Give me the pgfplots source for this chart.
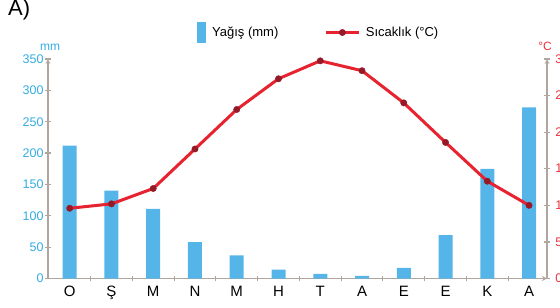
\documentclass[border=0pt]{standalone}
\usepackage{pgfplots}
\pgfplotsset{compat=1.18}
\usepackage{fontspec}
\setmainfont{Liberation Sans}
\definecolor{barblue}{RGB}{85,181,232}
\definecolor{lblue}{RGB}{52,172,226}
\definecolor{lred}{RGB}{236,50,60}
\definecolor{linered}{RGB}{232,35,48}
\definecolor{markred}{RGB}{150,25,40}
\definecolor{axgray}{RGB}{176,166,157}
\pgfplotsset{
 linelegend/.style={legend image code/.code={\draw[mark repeat=2,mark phase=2,##1] plot coordinates {(0pt,0pt)(16.5pt,0pt)(33pt,0pt)}; \path[draw=none,fill=none] (0pt,0pt) -- (40pt,0pt);}},
 barlegend/.style={legend image code/.code={\fill[barblue,draw=none] (0pt,-10.3pt) rectangle (8.5pt,10.3pt); \path[draw=none,fill=none] (0pt,0pt) -- (15pt,0pt);}},
}
\begin{document}
\begin{tikzpicture}
\pgfplotsset{
 common/.style={
  scale only axis, width=499pt, height=219.5pt,
  at={(48pt,29.5pt)}, anchor=south west,
  xmin=-0.52, xmax=11.43, clip=false,
  /pgf/number format/assume math mode=true,
  axis line style={axgray, line width=1.2pt, -},
  tick style={axgray, line width=1.2pt},
  tick align=center,
  major tick length=5.5pt,
  yticklabel style={font=\fontsize{12.5}{12.5}\selectfont},
 },
}
\begin{axis}[common,
  axis x line=bottom, axis y line=left,
  ymin=0, ymax=350, ytick={0,50,...,350},
  yticklabel style={lblue, inner xsep=1.5pt},
  xtick={0.5,1.5,...,10.5}, xticklabels={},
  extra x ticks={0,...,11},
  extra x tick labels={O,Ş,M,N,M,H,T,A,E,E,K,A},
  extra x tick style={major tick length=0pt,
    tick label style={font=\fontsize{15}{15}\selectfont, black, yshift=-4pt}},
]
\addplot[ybar, bar width=14pt, fill=barblue, draw=none] coordinates {
(0,212) (1,140) (2,111) (3,58) (4,37) (5,14) (6,7.5) (7,4) (8,17) (9,69) (10,175) (11,273)};
\end{axis}
\begin{axis}[common,
  axis x line=none, axis y line=right,
  ymin=0, ymax=30, ytick={0,5,...,30},
  yticklabel style={lred, inner xsep=5.5pt},
  legend style={draw=none, fill=none, inner sep=0pt, anchor=west,
    at={(0.2986,1.1207)}, font=\fontsize{13}{13}\selectfont,
    nodes={inner sep=0pt},
    /tikz/every even column/.append style={column sep=46pt}},
  legend columns=2, legend cell align=left,
]
\addlegendimage{barlegend}
\addlegendentry{Yağış (mm)}
\addplot[linered, line width=3pt, mark=*, mark size=3.2pt,
  mark options={fill=markred, draw=markred, line width=0.4pt, solid}, linelegend]
 coordinates {
(0,9.6) (1,10.2) (2,12.3) (3,17.7) (4,23.1) (5,27.3) (6,29.75) (7,28.4) (8,24.0) (9,18.6) (10,13.3) (11,10.0)};
\addlegendentry{Sıcaklık (°C)}
\end{axis}
\node[anchor=base west, font=\fontsize{22}{22}\selectfont, inner sep=0pt] at (8pt,292.5pt) {A)};
\node[lblue, font=\fontsize{12}{12}\selectfont, inner sep=0pt] at (50pt,261pt) {mm};
\node[lred, font=\fontsize{12}{12}\selectfont, inner sep=0pt] at (545pt,262pt) {°C};
\pgfresetboundingbox
\useasboundingbox (0pt,0pt) rectangle (560pt,308pt);
\end{tikzpicture}
\end{document}
